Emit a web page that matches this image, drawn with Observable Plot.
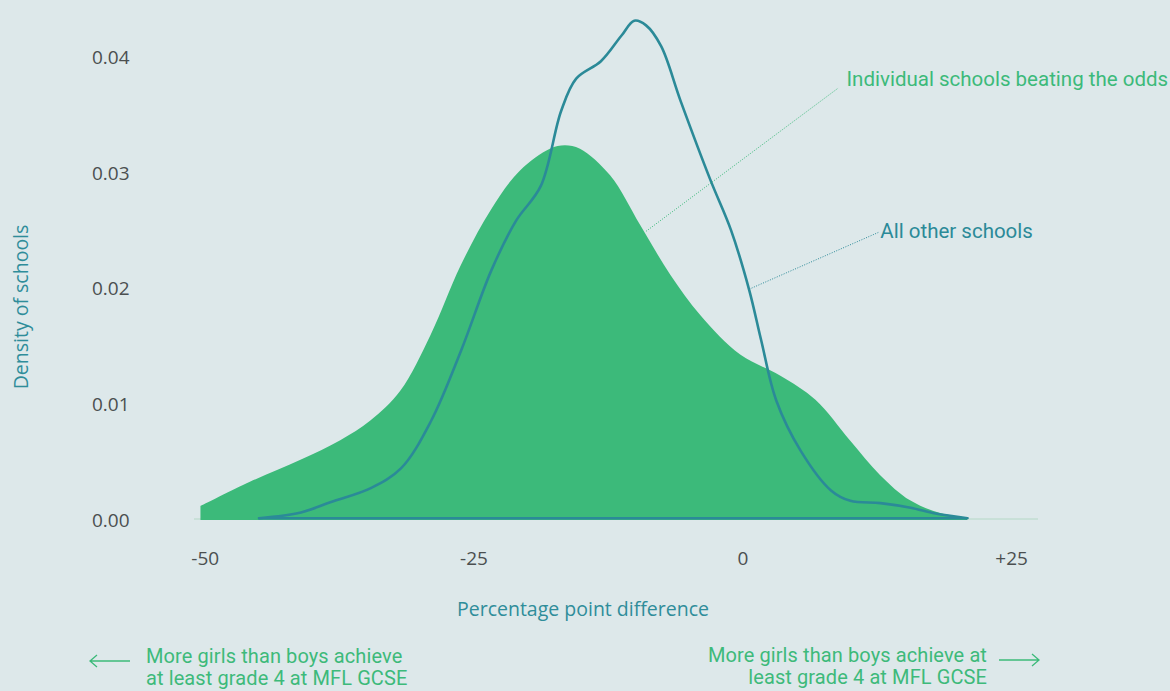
<!DOCTYPE html>
<html>
<head>
<meta charset="utf-8">
<script src="https://cdn.jsdelivr.net/npm/d3@7"></script>
<script src="https://cdn.jsdelivr.net/npm/@observablehq/plot@0.6"></script>
<style>
  html, body { margin: 0; padding: 0; background: #dde8ea; }
  #wrap { position: relative; width: 1170px; height: 691px; background: #dde8ea; overflow: hidden; }
  .note { position: absolute; font-family: Roboto, sans-serif; font-size: 20px; line-height: 22px; color: #3dba7a; letter-spacing: 0.1px; white-space: nowrap; }
  .axlab { position: absolute; font-family: "Open Sans", sans-serif; font-size: 19.5px; color: #2f8d9a; white-space: nowrap; }
</style>
</head>
<body>
<div id="wrap"></div>
<script>
// ---- Data ----
const beatingX = [-50.4, -45.8, -41.1, -37.4, -34.6, -31.8, -29.0, -26.2, -23.4, -20.7, -17.9, -16.5, -15.1, -12.3, -9.5, -6.7, -3.9, -0.2, 3.5, 6.8, 10.0, 12.8, 15.6, 18.4, 20.9];
const beatingY = [0.0012, 0.0033, 0.0052, 0.0069, 0.0086, 0.0112, 0.0160, 0.0220, 0.0268, 0.0302, 0.0321, 0.0324, 0.0321, 0.0298, 0.0255, 0.0212, 0.0177, 0.0143, 0.0125, 0.0104, 0.0069, 0.0039, 0.0017, 0.0006, 0.0002];

const otherX = [-45.0, -41.1, -38.3, -34.6, -31.8, -29.0, -26.2, -23.4, -21.1, -18.8, -16.9, -15.5, -13.2, -11.3, -10.1, -9.0, -7.6, -5.8, -3.0, -1.1, 0.6, 1.7, 3.1, 5.4, 8.2, 10.0, 12.8, 15.6, 17.9, 20.9];
const otherY = [0.0002, 0.0007, 0.0016, 0.0028, 0.0045, 0.0086, 0.0147, 0.0216, 0.0259, 0.0289, 0.0354, 0.0382, 0.0397, 0.0419, 0.0432, 0.0428, 0.0410, 0.0363, 0.0294, 0.0251, 0.0199, 0.0156, 0.0104, 0.0060, 0.0026, 0.0017, 0.0015, 0.0011, 0.0006, 0.0002];

const xTicks = [-50, -25, 0, 25];
const xTickLabels = ["-50", "-25", "0", "+25"];
const yTicks = [0, 0.01, 0.02, 0.03, 0.04];
const yTickLabels = ["0.00", "0.01", "0.02", "0.03", "0.04"];

const seriesNames = ["Individual schools beating the odds", "All other schools"];
// leader lines: [start x, start y, end x, end y] in data units
const leaderBeating = {x1: -9.0, y1: 0.0250, x2: 8.9, y2: 0.0374};
const leaderOther = {x1: 0.6, y1: 0.0200, x2: 12.6, y2: 0.0249};

const xLabel = "Percentage point difference";
const yLabel = "Density of schools";
const noteLeft = ["More girls than boys achieve", "at least grade 4 at MFL GCSE"];
const noteRight = ["More girls than boys achieve at", "least grade 4 at MFL GCSE"];

// ---- Build ----
const GREEN = "#3cba7a";
const TEAL = "#2b8a98";
const beating = beatingX.map((x, i) => ({x, y: beatingY[i]}));
const other = otherX.map((x, i) => ({x, y: otherY[i]}));

const chart = Plot.plot({
  width: 1170,
  height: 691,
  marginLeft: 194,
  marginRight: 132,
  marginTop: 11,
  marginBottom: 171,
  style: {background: "transparent", fontFamily: "'Open Sans', sans-serif"},
  x: {domain: [-51, 27.5]},
  y: {domain: [0, 0.044]},
  marks: [
    Plot.ruleY([0], {x1: -51, x2: 27.5, stroke: "#b4d8c6", strokeWidth: 1, dy: -1.5}),
    Plot.areaY(beating, {x: "x", y: "y", fill: GREEN, curve: "catmull-rom"}),
    Plot.line(other, {x: "x", y: "y", stroke: TEAL, strokeWidth: 2.6, curve: "catmull-rom"}),
    Plot.ruleY([otherY[0]], {x1: otherX[0], x2: otherX[otherX.length - 1], stroke: TEAL, strokeWidth: 2.6}),
    Plot.link([leaderBeating], {x1: "x1", y1: "y1", x2: "x2", y2: "y2", stroke: GREEN, strokeWidth: 1, strokeDasharray: "1,1.5"}),
    Plot.link([leaderOther], {x1: "x1", y1: "y1", x2: "x2", y2: "y2", stroke: TEAL, strokeWidth: 1, strokeDasharray: "1,1.5"}),
    Plot.text([seriesNames[0]], {x: leaderBeating.x2, y: leaderBeating.y2, text: d => d, textAnchor: "start", dx: 8, dy: -8, fill: GREEN, fontSize: 20.5, fontFamily: "Roboto, sans-serif"}),
    Plot.text([seriesNames[1]], {x: leaderOther.x2, y: leaderOther.y2, text: d => d, textAnchor: "start", dx: 2, dy: -1, fill: TEAL, fontSize: 20.5, fontFamily: "Roboto, sans-serif"}),
    Plot.axisY({ticks: yTicks, tickFormat: (d, i) => yTickLabels[i], tickSize: 0, tickPadding: 65, fontSize: 19, color: "#4b4f50", label: null}),
    Plot.axisX({ticks: xTicks, tickFormat: (d, i) => xTickLabels[i], tickSize: 0, tickPadding: 31, fontSize: 19, color: "#4b4f50", label: null})
  ]
});

const wrap = document.getElementById("wrap");
wrap.appendChild(chart);
chart.style.position = "absolute";
chart.style.left = "0";
chart.style.top = "0";

function addDiv(cls, html, css) {
  const d = document.createElement("div");
  d.className = cls;
  d.innerHTML = html;
  Object.assign(d.style, css);
  wrap.appendChild(d);
  return d;
}
addDiv("axlab", xLabel, {left: "583px", top: "608px", transform: "translate(-50%,-50%)"});
addDiv("axlab", yLabel, {left: "20px", top: "307px", transform: "translate(-50%,-50%) rotate(-90deg)"});

const arrowL = '<svg width="44" height="14" style="position:absolute;left:-58px;top:9px" viewBox="0 0 44 14"><path d="M2 7H42M9 1L2 7L9 13" fill="none" stroke="#3cba7a" stroke-width="1.3"/></svg>';
const arrowR = '<svg width="44" height="14" style="position:absolute;right:-54px;top:9px" viewBox="0 0 44 14"><path d="M2 7H42M35 1L42 7L35 13" fill="none" stroke="#3cba7a" stroke-width="1.3"/></svg>';
addDiv("note", arrowL + noteLeft.join("<br>"), {left: "146px", top: "645px", textAlign: "left"});
addDiv("note", arrowR + noteRight.join("<br>"), {right: "183px", top: "644px", textAlign: "right"});
</script>
</body>
</html>
